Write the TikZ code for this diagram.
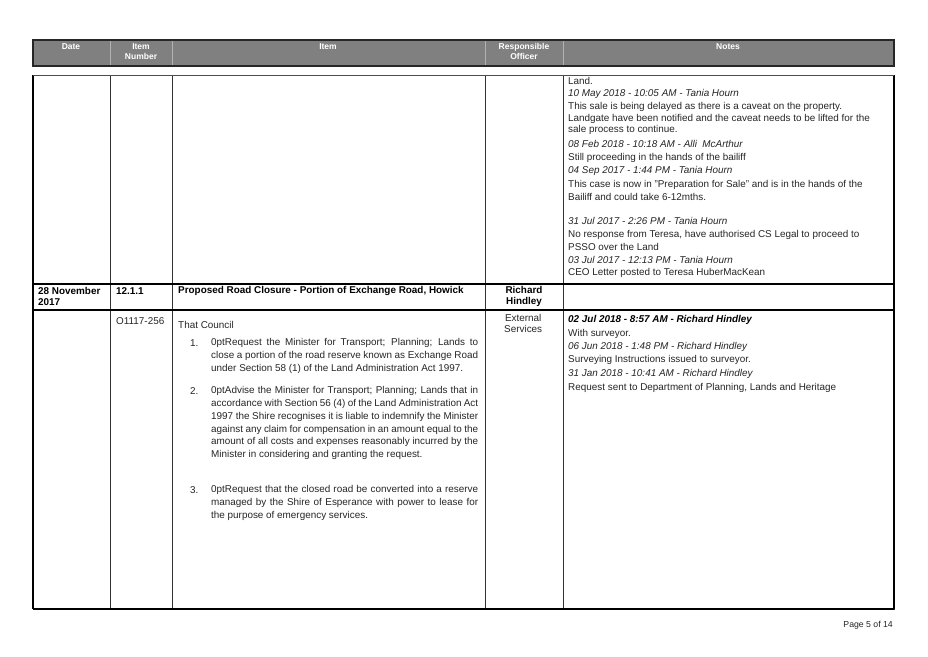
\documentclass[tikz,border=0pt]{standalone}
\usepackage{fontspec}
\setmainfont{Liberation Sans}
\begin{document}
\begin{tikzpicture}[x=1pt,y=-1pt,
  t/.style={anchor=west,inner sep=0pt,font=\fontsize{9.9}{12.5}\selectfont,text=black!85},
  ti/.style={t,font=\fontsize{9.9}{12.5}\selectfont\itshape},
  hd/.style={inner sep=0pt,font=\fontsize{8.5}{10}\selectfont\bfseries,text=white,align=center},
  bd/.style={inner sep=0pt,font=\fontsize{9.9}{11}\selectfont\bfseries},
  para/.style={anchor=north west,inner sep=0pt,text width=267pt,align=justify,font=\fontsize{9.9}{12.9}\selectfont\hyphenpenalty=10000\exhyphenpenalty=10000,text=black!85},
  grid/.style={draw=black!80,line width=0.6pt},
  thick/.style={draw=black,line width=1.2pt}]
\useasboundingbox (0,0) rectangle (928,656);
\fill[white] (0,0) rectangle (928,656);
% header
\fill[black!50] (33,40) rectangle (894,66);
\draw[thick,draw=black!85] (33,40) rectangle (894,66);
\foreach \x in {110,172,485,563} \draw[black!30,line width=0.6pt] (\x,41) -- (\x,65);
\node[hd] (h1) at (71,47) {Date};
\node[hd,anchor=north] (h2) at (141,43) {Item\\Number};
\node[hd] (h3) at (328,47) {Item};
\node[hd,anchor=north] (h4) at (524,43) {Responsible\\Officer};
\node[hd] (h5) at (728,47) {Notes};
% table
\draw[grid] (33,75) rectangle (894,609);
\foreach \x in {110,172,485,563} \draw[grid] (\x,75) -- (\x,609);
\draw[thick] (33,284) -- (894,284);
\draw[thick] (33,310) -- (894,310);
\draw[thick] (33,75) -- (33,609);
\draw[thick] (894,75) -- (894,609);
\draw[thick] (33,609) -- (894,609);
\draw[black!70,line width=0.8pt] (33,75) -- (894,75);
% notes row 1
\node[t] (n1) at (568,81) {Land.};
\node[ti] (n2) at (568,94) {10 May 2018 - 10:05 AM - Tania Hourn};
\node[t] (n3) at (568,107) {This sale is being delayed as there is a caveat on the property.};
\node[t] (n4) at (568,119) {Landgate have been notified and the caveat needs to be lifted for the};
\node[t] (n5) at (568,130) {sale process to continue.};
\node[ti] (n6) at (568,144) {08 Feb 2018 - 10:18 AM - Alli\ \ McArthur};
\node[t] (n7) at (568,158) {Still proceeding in the hands of the bailiff};
\node[ti] (n8) at (568,171) {04 Sep 2017 - 1:44 PM - Tania Hourn};
\node[t] (n9) at (568,185) {This case is now in ''Preparation for Sale'' and is in the hands of the};
\node[t] (n10) at (568,197) {Bailiff and could take 6-12mths.};
\node[ti] (n11) at (568,221) {31 Jul 2017 - 2:26 PM - Tania Hourn};
\node[t] (n12) at (568,235) {No response from Teresa, have authorised CS Legal to proceed to};
\node[t] (n13) at (568,247) {PSSO over the Land};
\node[ti] (n14) at (568,260) {03 Jul 2017 - 12:13 PM - Tania Hourn};
\node[t] (n15) at (568,273) {CEO Letter posted to Teresa HuberMacKean};
% row 2
\node[bd,anchor=north west,align=left] (d) at (38,287) {28 November\\2017};
\node[bd,anchor=north west] (num) at (116,287) {12.1.1};
\node[bd,anchor=north west] (it) at (178,286) {Proposed Road Closure - Portion of Exchange Road, Howick};
\node[bd,anchor=north,align=center] (ro) at (524,286) {Richard\\Hindley};
% row 3
\node[t] (o) at (116,321) {O1117-256};
\node[t] (tc) at (178,325) {That Council};
\node[t,anchor=north west,align=center,font=\fontsize{9.9}{11.5}\selectfont] (es) at (504,314) {External\\Services};
\node[t] (i1n) at (190,343) {1.};
\node[para] (i1) at (211,338) {Request the Minister for Transport; Planning; Lands to close a portion of the road reserve known as Exchange Road under Section 58 (1) of the Land Administration Act 1997.};
\node[t] (i2n) at (190,391) {2.};
\node[para] (i2) at (211,386) {Advise the Minister for Transport; Planning; Lands that in accordance with Section 56 (4) of the Land Administration Act 1997 the Shire recognises it is liable to indemnify the Minister against any claim for compensation in an amount equal to the amount of all costs and expenses reasonably incurred by the Minister in considering and granting the request.};
\node[t] (i3n) at (190,490) {3.};
\node[para] (i3) at (211,485) {Request that the closed road be converted into a reserve managed by the Shire of Esperance with power to lease for the purpose of emergency services.};
\node[t,font=\fontsize{9.9}{12.5}\selectfont\bfseries\itshape,text=black] (m1) at (568,320) {02 Jul 2018 - 8:57 AM - Richard Hindley};
\node[t] (m2) at (568,334) {With surveyor.};
\node[ti] (m3) at (568,347) {06 Jun 2018 - 1:48 PM - Richard Hindley};
\node[t] (m4) at (568,360) {Surveying Instructions issued to surveyor.};
\node[ti] (m5) at (568,374) {31 Jan 2018 - 10:41 AM - Richard Hindley};
\node[t] (m6) at (568,388) {Request sent to Department of Planning, Lands and Heritage};
\node[t,anchor=east,font=\fontsize{8.7}{10}\selectfont] (pg) at (893,625) {Page 5 of 14};
\end{tikzpicture}
\end{document}
